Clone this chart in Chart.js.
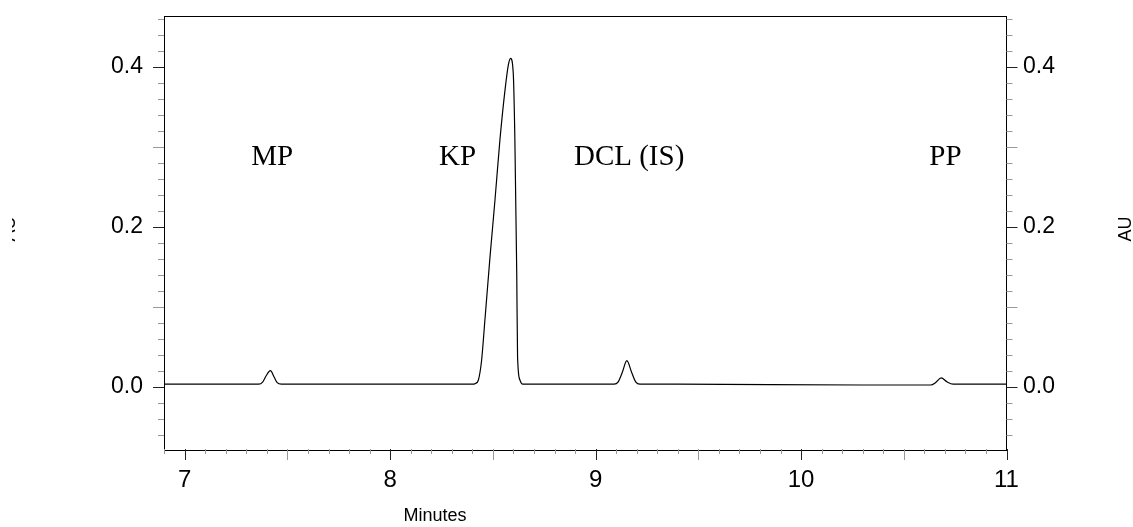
<!DOCTYPE html>
<html>
<head>
<meta charset="utf-8">
<script src="https://cdn.jsdelivr.net/npm/chart.js@4/dist/chart.umd.min.js"></script>
<style>
  body { margin: 0; background: #fff; }
  canvas { display: block; }
</style>
</head>
<body>
<canvas id="chrom" width="1133" height="527"></canvas>
<script>
// retention time (minutes) and absorbance (AU)
var times = [6.899, 7.30, 7.36, 7.38, 7.395, 7.417, 7.435, 7.45, 7.47, 7.60,
  8.30, 8.40, 8.415, 8.429, 8.445, 8.461, 8.486, 8.510, 8.534, 8.559, 8.575, 8.586,
  8.599, 8.607, 8.616, 8.620, 8.632, 8.645, 8.80,
  9.09, 9.11, 9.13, 9.152, 9.175, 9.195, 9.215, 9.40,
  10.30, 10.63, 10.655, 10.682, 10.71, 10.74, 10.85, 11.0];
var absorbance = [0.003, 0.003, 0.003, 0.006, 0.013, 0.020, 0.012, 0.005, 0.003, 0.003,
  0.003, 0.003, 0.004, 0.008, 0.033, 0.083, 0.1625, 0.233, 0.308, 0.371, 0.402, 0.4105,
  0.392, 0.308, 0.142, 0.0375, 0.008, 0.003, 0.003,
  0.003, 0.006, 0.018, 0.0325, 0.018, 0.006, 0.003, 0.003,
  0.002, 0.002, 0.005, 0.011, 0.006, 0.003, 0.003, 0.003];

// peak names and where they are written (minutes, AU)
var peakNames = ["MP", "KP", "DCL (IS)", "PP"];
var peakLabelX = [7.426, 8.328, 9.163, 10.703];
var peakLabelY = [0.277, 0.277, 0.277, 0.277];

var xTicks = [7, 8, 9, 10, 11];
var yTicks = [0, 0.2, 0.4];

var sans = "'Liberation Sans', Arial, sans-serif";

var points = [];
for (var i = 0; i < times.length; i++) {
  points.push({x: times[i], y: absorbance[i]});
}

// box, tick marks, titles and peak names
var decor = {
  id: 'decor',
  afterDraw: function(chart) {
    var c = chart.ctx, a = chart.chartArea;
    var sx = chart.scales.x, sy = chart.scales.y;
    c.save();
    c.strokeStyle = '#000';
    c.lineWidth = 1;
    c.strokeRect(Math.round(a.left) + 0.5, Math.round(a.top) + 0.5,
      Math.round(a.right - a.left) - 1, Math.round(a.bottom - a.top));

    // x ticks every 0.1 min
    for (var k = 69; k <= 110; k++) {
      var v = k / 10;
      var px = Math.round(sx.getPixelForValue(v)) + 0.5;
      if (px < a.left - 1 || px > a.right + 1) continue;
      var major = k % 10 === 0, mid = k % 5 === 0;
      c.strokeStyle = major ? '#222' : '#999';
      c.beginPath();
      c.moveTo(px, a.bottom);
      c.lineTo(px, a.bottom + (mid ? 11 : 5));
      c.stroke();
    }
    // y ticks every 0.02 AU, both sides
    for (var j = -4; j <= 23; j++) {
      var val = j / 50;
      var py = Math.round(sy.getPixelForValue(val)) + 0.5;
      if (py < a.top - 1 || py > a.bottom + 1) continue;
      var maj = j % 10 === 0, md = j % 5 === 0;
      var len = md ? 11 : 6;
      c.strokeStyle = maj ? '#222' : '#999';
      c.beginPath();
      c.moveTo(a.left, py); c.lineTo(a.left - len, py);
      c.moveTo(a.right, py); c.lineTo(a.right + len, py);
      c.stroke();
    }

    c.fillStyle = '#000';
    c.font = '18px ' + sans;
    c.textAlign = 'center';
    c.textBaseline = 'middle';
    c.fillText('Minutes', 435, 516);

    c.save();
    c.translate(1131, 229);
    c.rotate(-Math.PI / 2);
    c.textBaseline = 'alphabetic';
    c.fillText('AU', 0, 0);
    c.restore();
    // left title is cut off at the edge, only its foot shows
    c.save();
    c.beginPath();
    c.rect(12, 0, 10, 527);
    c.clip();
    c.translate(15, 229);
    c.rotate(-Math.PI / 2);
    c.textBaseline = 'alphabetic';
    c.fillText('AU', 0, 0);
    c.restore();

    c.font = "29px 'Liberation Serif', 'Times New Roman', serif";
    c.textBaseline = 'alphabetic';
    for (var p = 0; p < peakNames.length; p++) {
      c.fillText(peakNames[p], sx.getPixelForValue(peakLabelX[p]), sy.getPixelForValue(peakLabelY[p]));
    }
    c.restore();
  }
};

function yAxis(pos, pad, w) {
  return {
    type: 'linear',
    position: pos,
    min: -0.078,
    max: 0.464,
    afterBuildTicks: function(s) { s.ticks = yTicks.map(function(v) { return {value: v}; }); },
    afterFit: function(s) { s.width = w; s.paddingTop = 0; s.paddingBottom = 0; },
    grid: { display: false, drawTicks: false },
    border: { display: false },
    ticks: {
      padding: pad,
      color: '#000',
      font: { family: sans, size: 23 },
      callback: function(v) { return Number(v).toFixed(1); }
    }
  };
}

var ctx = document.getElementById('chrom');
var chromChart = new Chart(ctx, {
  type: 'line',
  data: {
    datasets: [{
      data: points,
      borderColor: '#000',
      borderWidth: 1.2,
      pointRadius: 0,
      fill: false,
      cubicInterpolationMode: 'monotone'
    }]
  },
  plugins: [decor],
  options: {
    responsive: false,
    animation: false,
    layout: { padding: { top: 15.5, left: 0, right: 0, bottom: 0 } },
    plugins: { legend: { display: false }, tooltip: { enabled: false } },
    scales: {
      x: {
        type: 'linear',
        min: 6.899,
        max: 11,
        afterBuildTicks: function(s) { s.ticks = xTicks.map(function(v) { return {value: v}; }); },
        afterFit: function(s) { s.height = 78; s.paddingLeft = 0; s.paddingRight = 0; },
        grid: { display: false, drawTicks: false },
        border: { display: false },
        ticks: {
          padding: 17,
          color: '#000',
          maxRotation: 0,
          font: { family: sans, size: 24 },
          callback: function(v) { return String(v); }
        }
      },
      y: yAxis('left', 21, 164),
      y2: yAxis('right', 16.5, 126.5)
    }
  }
});
</script>
</body>
</html>
